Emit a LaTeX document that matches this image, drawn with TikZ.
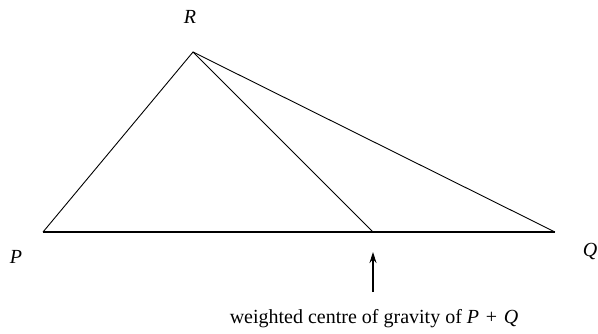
\documentclass[tikz,border=0pt]{standalone}
\usepackage{fontspec}
\setmainfont{Liberation Serif}
\usetikzlibrary{arrows.meta}
\begin{document}
\begin{tikzpicture}[x=1pt,y=-1pt,
  thinline/.style={line width=0.9pt},
  baseedge/.style={line width=1.6pt},
  lbl/.style={font=\fontsize{20}{24}\selectfont\itshape, inner sep=0pt},
  captext/.style={font=\fontsize{20}{24}\selectfont, inner sep=0pt}]
\useasboundingbox (0,0) rectangle (598,333);
\coordinate (P) at (43,232);
\coordinate (Q) at (555,232);
\coordinate (R) at (193,52);
\coordinate (M) at (373,232);
\coordinate (A0) at (373,292);
\coordinate (A1) at (373,252);
\draw[baseedge] (P) -- (Q);
\draw[thinline] (P) -- (R) -- (Q);
\draw[thinline] (R) -- (M);
\draw[line width=1.1pt, -{Stealth[length=11pt,width=7pt]}] (A0) -- (A1);
\node[lbl] (lR) at (190,17) {R};
\node[lbl] (lP) at (16,257) {P};
\node[lbl] (lQ) at (590,251) {Q};
\node[captext] (cg) at (374,319) {weighted centre of gravity of \textit{P}\,\,+\,\,\textit{Q}};
\end{tikzpicture}
\end{document}
